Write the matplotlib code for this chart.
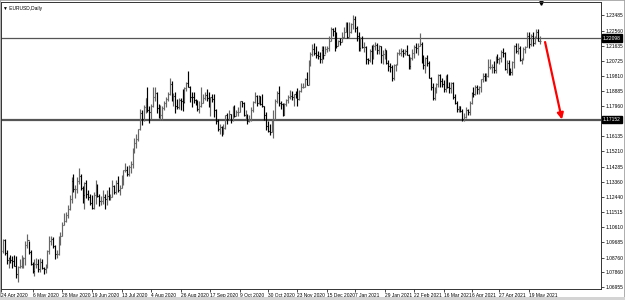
import numpy as np
import pandas as pd
import matplotlib
matplotlib.use("Agg")
import matplotlib.pyplot as plt
from matplotlib.patches import Rectangle

############## Données EURUSD Daily ##############

# bornes : première ouverture puis (haut, bas, clôture) par séance
first_open = 1.0915
highs = [
    1.0990, 1.0990, 1.0925, 1.0880,
    1.0890, 1.0885, 1.0890, 1.0885, 1.0825,
    1.0865, 1.0890, 1.0880, 1.0975, 1.1020,
    1.0975, 1.0925, 1.0850, 1.0865, 1.0875,
    1.0865, 1.0875, 1.0865, 1.0820, 1.0835,
    1.0925, 1.1010, 1.1010, 1.1000, 1.0955,
    1.0925, 1.1005, 1.1030, 1.1095, 1.1145,
    1.1155, 1.1195, 1.1255, 1.1365, 1.1385,
    1.1320, 1.1365, 1.1422, 1.1385, 1.1310,
    1.1335, 1.1345, 1.1285, 1.1260, 1.1255,
    1.1275, 1.1350, 1.1325, 1.1265, 1.1250,
    1.1285, 1.1265, 1.1285, 1.1305, 1.1265,
    1.1345, 1.1315, 1.1345, 1.1370, 1.1315,
    1.1375, 1.1410, 1.1450, 1.1435, 1.1440,
    1.1465, 1.1545, 1.1600, 1.1625, 1.1660,
    1.1780, 1.1775, 1.1805, 1.1845, 1.1910,
    1.1800, 1.1810, 1.1915, 1.1915, 1.1880,
    1.1810, 1.1805, 1.1800, 1.1830, 1.1850,
    1.1885, 1.1965, 1.1950, 1.1875, 1.1885,
    1.1840, 1.1845, 1.1845, 1.1900, 1.1915,
    1.1945, 1.2011, 1.1920, 1.1885, 1.1880,
    1.1840, 1.1835, 1.1830, 1.1915, 1.1870,
    1.1885, 1.1900, 1.1885, 1.1850, 1.1870,
    1.1870, 1.1780, 1.1720, 1.1690, 1.1675,
    1.1685, 1.1745, 1.1755, 1.1770, 1.1750,
    1.1800, 1.1805, 1.1770, 1.1790, 1.1830,
    1.1830, 1.1820, 1.1775, 1.1750, 1.1740,
    1.1790, 1.1830, 1.1880, 1.1865, 1.1865,
    1.1860, 1.1870, 1.1800, 1.1760, 1.1705,
    1.1690, 1.1720, 1.1770, 1.1840, 1.1890,
    1.1920, 1.1830, 1.1815, 1.1815, 1.1840,
    1.1865, 1.1895, 1.1890, 1.1870, 1.1890,
    1.1905, 1.1895, 1.1940, 1.1940, 1.1965,
    1.2005, 1.2075, 1.2125, 1.2175, 1.2180,
    1.2165, 1.2130, 1.2125, 1.2160, 1.2165,
    1.2165, 1.2160, 1.2220, 1.2275, 1.2270,
    1.2275, 1.2250, 1.2200, 1.2210,
    1.2250, 1.2275, 1.2310, 1.2310,
    1.2310, 1.2300, 1.2349, 1.2345, 1.2285,
    1.2245, 1.2215, 1.2220, 1.2185, 1.2160,
    1.2090, 1.2145, 1.2170, 1.2175, 1.2185,
    1.2180, 1.2170, 1.2165, 1.2140, 1.2150,
    1.2140, 1.2075, 1.2060, 1.2045, 1.2050,
    1.2055, 1.2125, 1.2145, 1.2150, 1.2145,
    1.2145, 1.2170, 1.2115, 1.2095, 1.2145,
    1.2170, 1.2180, 1.2180, 1.2243, 1.2185,
    1.2110, 1.2095, 1.2110, 1.2070, 1.1975,
    1.1935, 1.1910, 1.1935, 1.1990, 1.1990,
    1.1970, 1.1955, 1.1985, 1.1990, 1.1945,
    1.1945, 1.1945, 1.1870, 1.1830, 1.1800,
    1.1800, 1.1780, 1.1755, 1.1790, 1.1780,
    1.1825, 1.1880, 1.1915, 1.1925, 1.1925,
    1.1920, 1.1960, 1.1995, 1.1995, 1.1995,
    1.2080, 1.2080, 1.2050, 1.2070, 1.2100,
    1.2115, 1.2095, 1.2135, 1.2150, 1.2125,
    1.2075, 1.2075, 1.2030, 1.2070, 1.2170,
    1.2180, 1.2180, 1.2165, 1.2090, 1.2155,
    1.2165, 1.2245, 1.2245, 1.2235, 1.2245,
    1.2225, 1.2266, 1.2265, 1.2225,
]
lows = [
    1.0905, 1.0890, 1.0840, 1.0810,
    1.0845, 1.0815, 1.0825, 1.0755, 1.0727,
    1.0815, 1.0810, 1.0815, 1.0830, 1.0935,
    1.0895, 1.0830, 1.0780, 1.0765, 1.0815,
    1.0790, 1.0790, 1.0805, 1.0775, 1.0785,
    1.0815, 1.0900, 1.0950, 1.0935, 1.0870,
    1.0875, 1.0890, 1.0955, 1.1010, 1.1075,
    1.1090, 1.1115, 1.1165, 1.1205, 1.1275,
    1.1240, 1.1270, 1.1325, 1.1285, 1.1205,
    1.1170, 1.1240, 1.1225, 1.1195, 1.1170,
    1.1170, 1.1200, 1.1245, 1.1190, 1.1195,
    1.1200, 1.1170, 1.1195, 1.1225, 1.1225,
    1.1245, 1.1260, 1.1265, 1.1275, 1.1255,
    1.1300, 1.1320, 1.1395, 1.1370, 1.1370,
    1.1390, 1.1420, 1.1510, 1.1540, 1.1585,
    1.1650, 1.1680, 1.1705, 1.1755, 1.1760,
    1.1695, 1.1720, 1.1790, 1.1825, 1.1755,
    1.1725, 1.1710, 1.1710, 1.1775, 1.1790,
    1.1825, 1.1865, 1.1825, 1.1800, 1.1755,
    1.1780, 1.1780, 1.1770, 1.1765, 1.1815,
    1.1890, 1.1910, 1.1820, 1.1790, 1.1815,
    1.1805, 1.1765, 1.1755, 1.1790, 1.1815,
    1.1835, 1.1825, 1.1790, 1.1735, 1.1820,
    1.1730, 1.1690, 1.1645, 1.1625, 1.1612,
    1.1625, 1.1660, 1.1685, 1.1715, 1.1695,
    1.1705, 1.1730, 1.1735, 1.1735, 1.1760,
    1.1790, 1.1735, 1.1720, 1.1690, 1.1700,
    1.1705, 1.1760, 1.1815, 1.1800, 1.1810,
    1.1805, 1.1790, 1.1715, 1.1650, 1.1640,
    1.1620, 1.1640, 1.1603, 1.1710, 1.1815,
    1.1800, 1.1780, 1.1735, 1.1740, 1.1800,
    1.1815, 1.1840, 1.1835, 1.1800, 1.1845,
    1.1800, 1.1835, 1.1880, 1.1905, 1.1910,
    1.1925, 1.1925, 1.2040, 1.2100, 1.2110,
    1.2090, 1.2085, 1.2060, 1.2060, 1.2085,
    1.2115, 1.2125, 1.2130, 1.2190, 1.2225,
    1.2130, 1.2150, 1.2160, 1.2170,
    1.2185, 1.2210, 1.2245, 1.2210,
    1.2215, 1.2240, 1.2265, 1.2250, 1.2190,
    1.2130, 1.2130, 1.2150, 1.2125, 1.2055,
    1.2055, 1.2065, 1.2055, 1.2085, 1.2135,
    1.2115, 1.2115, 1.2060, 1.2055, 1.2080,
    1.2050, 1.2010, 1.2005, 1.1950, 1.1955,
    1.2010, 1.2045, 1.2105, 1.2100, 1.2095,
    1.2110, 1.2105, 1.2025, 1.2020, 1.2075,
    1.2090, 1.2120, 1.2110, 1.2160, 1.2060,
    1.2025, 1.2000, 1.2040, 1.1965, 1.1895,
    1.1835, 1.1835, 1.1875, 1.1915, 1.1910,
    1.1910, 1.1885, 1.1885, 1.1905, 1.1875,
    1.1875, 1.1840, 1.1810, 1.1760, 1.1760,
    1.1760, 1.1705, 1.1704, 1.1725, 1.1745,
    1.1740, 1.1810, 1.1855, 1.1865, 1.1870,
    1.1870, 1.1880, 1.1945, 1.1950, 1.1950,
    1.1975, 1.2020, 1.2000, 1.1995, 1.2000,
    1.2060, 1.2055, 1.2065, 1.2095, 1.2015,
    1.1995, 1.1985, 1.1985, 1.1985, 1.2030,
    1.2120, 1.2115, 1.2070, 1.2050, 1.2075,
    1.2120, 1.2155, 1.2150, 1.2165, 1.2165,
    1.2175, 1.2210, 1.2190, 1.2175,
]
closes = [
    1.0985, 1.0905, 1.0860, 1.0875,
    1.0860, 1.0855, 1.0825, 1.0775, 1.0820,
    1.0825, 1.0825, 1.0875, 1.0955, 1.0980,
    1.0910, 1.0840, 1.0795, 1.0835, 1.0840,
    1.0805, 1.0850, 1.0815, 1.0805, 1.0820,
    1.0915, 1.0975, 1.0990, 1.0945, 1.0900,
    1.0900, 1.0980, 1.1010, 1.1075, 1.1100,
    1.1135, 1.1170, 1.1235, 1.1340, 1.1290,
    1.1295, 1.1340, 1.1370, 1.1300, 1.1255,
    1.1330, 1.1265, 1.1245, 1.1205, 1.1175,
    1.1255, 1.1310, 1.1250, 1.1220, 1.1220,
    1.1245, 1.1235, 1.1250, 1.1240, 1.1245,
    1.1310, 1.1275, 1.1330, 1.1285, 1.1300,
    1.1340, 1.1410, 1.1410, 1.1385, 1.1425,
    1.1445, 1.1530, 1.1570, 1.1595, 1.1655,
    1.1755, 1.1720, 1.1790, 1.1845, 1.1775,
    1.1760, 1.1800, 1.1855, 1.1875, 1.1785,
    1.1735, 1.1740, 1.1785, 1.1815, 1.1840,
    1.1870, 1.1930, 1.1835, 1.1860, 1.1795,
    1.1790, 1.1835, 1.1830, 1.1820, 1.1905,
    1.1935, 1.1915, 1.1855, 1.1850, 1.1835,
    1.1815, 1.1780, 1.1800, 1.1815, 1.1845,
    1.1865, 1.1845, 1.1815, 1.1850, 1.1840,
    1.1770, 1.1705, 1.1660, 1.1670, 1.1630,
    1.1665, 1.1740, 1.1720, 1.1750, 1.1715,
    1.1780, 1.1735, 1.1760, 1.1760, 1.1825,
    1.1815, 1.1745, 1.1745, 1.1705, 1.1715,
    1.1770, 1.1820, 1.1860, 1.1815, 1.1860,
    1.1810, 1.1795, 1.1745, 1.1675, 1.1645,
    1.1640, 1.1715, 1.1720, 1.1830, 1.1875,
    1.1815, 1.1810, 1.1740, 1.1810, 1.1835,
    1.1855, 1.1860, 1.1850, 1.1870, 1.1855,
    1.1840, 1.1890, 1.1915, 1.1915, 1.1960,
    1.1925, 1.2070, 1.2115, 1.2145, 1.2120,
    1.2110, 1.2100, 1.2080, 1.2135, 1.2110,
    1.2145, 1.2150, 1.2195, 1.2265, 1.2255,
    1.2240, 1.2165, 1.2190, 1.2185,
    1.2215, 1.2250, 1.2295, 1.2215,
    1.2250, 1.2295, 1.2325, 1.2270, 1.2220,
    1.2150, 1.2210, 1.2155, 1.2155, 1.2080,
    1.2075, 1.2130, 1.2105, 1.2165, 1.2170,
    1.2140, 1.2160, 1.2110, 1.2115, 1.2135,
    1.2060, 1.2040, 1.2035, 1.1965, 1.2045,
    1.2050, 1.2120, 1.2120, 1.2130, 1.2120,
    1.2130, 1.2105, 1.2040, 1.2090, 1.2120,
    1.2155, 1.2150, 1.2165, 1.2175, 1.2075,
    1.2045, 1.2090, 1.2060, 1.1965, 1.1915,
    1.1845, 1.1900, 1.1930, 1.1985, 1.1950,
    1.1930, 1.1900, 1.1980, 1.1915, 1.1905,
    1.1935, 1.1850, 1.1815, 1.1780, 1.1795,
    1.1765, 1.1720, 1.1730, 1.1775, 1.1760,
    1.1815, 1.1875, 1.1870, 1.1915, 1.1900,
    1.1910, 1.1960, 1.1980, 1.1965, 1.1980,
    1.2035, 1.2035, 1.2035, 1.2015, 1.2095,
    1.2085, 1.2090, 1.2125, 1.2120, 1.2020,
    1.2060, 1.2015, 1.2005, 1.2065, 1.2165,
    1.2130, 1.2150, 1.2075, 1.2080, 1.2145,
    1.2155, 1.2225, 1.2175, 1.2225, 1.2180,
    1.2215, 1.2250, 1.2195, 1.2195,
]

# niveaux tracés et étiquettes de prix à droite
resistance = 1.22098
support = 1.17152
price_ticks = [1.23485, 1.22560, 1.21635, 1.20725, 1.19810, 1.18885, 1.17960,
               1.16135, 1.15210, 1.14285, 1.13360, 1.12440, 1.11515, 1.10610,
               1.09685, 1.08760, 1.07860, 1.06955]
date_labels = ["24 Apr 2020", "6 May 2020", "28 May 2020", "19 Jun 2020",
               "13 Jul 2020", "4 Aug 2020", "26 Aug 2020", "17 Sep 2020",
               "9 Oct 2020", "30 Oct 2020", "23 Nov 2020", "15 Dec 2020",
               "7 Jan 2021", "29 Jan 2021", "22 Feb 2021", "16 Mar 2021",
               "6 Apr 2021", "27 Apr 2021", "19 May 2021"]

# flèche rouge : départ (barres après la dernière, prix) -> arrivée sur le support
arrow_from = (2.7, 1.2186)
arrow_to = (11.8, support)

############## Préparation ##############

dates = pd.bdate_range("2020-04-14", "2021-05-27")
dates = dates[~dates.isin(pd.to_datetime(["2020-12-25", "2021-01-01"]))]
n = len(closes)
dates = dates[:n]
x = np.arange(n)
o = np.array([first_open] + closes[:-1])
c = np.array(closes)
h = np.array(highs)
l = np.array(lows)
up = c >= o

plt.rcParams["font.family"] = ["Liberation Sans", "DejaVu Sans"]
fs = 3.5

############## Figure ##############

fig = plt.figure(figsize=(6.25, 3.0), dpi=100)
ax = fig.add_axes([1 / 625, 11.5 / 300, 600 / 625, 286.5 / 300])

x_left, x_right = -1.08, 322.9
ax.set_xlim(x_left, x_right)
ax.set_ylim(1.06882, 1.24294)

for mask, col in ((up, "#666666"), (~up, "#000000")):
    ax.vlines(x[mask], l[mask], h[mask], color=col, lw=0.85)
    ax.hlines(o[mask], x[mask] - 0.5, x[mask], color=col, lw=0.8)
    ax.hlines(c[mask], x[mask], x[mask] + 0.5, color=col, lw=0.8)

ax.axhline(resistance, color="#555555", lw=0.9, zorder=1)
ax.axhline(support, color="#555555", lw=1.6, zorder=1)

ax.annotate("", xy=(n - 1 + arrow_to[0], arrow_to[1]),
            xytext=(n - 1 + arrow_from[0], arrow_from[1]),
            arrowprops=dict(arrowstyle="-|>", color="#ff0000", lw=1.6,
                            mutation_scale=9, shrinkA=0, shrinkB=0))

# marqueur de décalage du graphique
ax.plot([n - 0.5], [1.2425], marker="v", color="black", markersize=2.5,
        clip_on=False)

# axe des prix à droite
ax.yaxis.tick_right()
ax.set_yticks(price_ticks)
ax.set_yticklabels(["%.5f" % p for p in price_ticks])
ax.tick_params(axis="y", length=2, width=0.5, pad=1, labelsize=fs,
               colors="black")

for lvl in (resistance, support):
    ax.text(1.003, lvl, "%.5f" % lvl, transform=ax.get_yaxis_transform(),
            fontsize=fs, color="white", va="center", ha="left",
            bbox=dict(boxstyle="square,pad=0.25", fc="black", ec="black"),
            clip_on=False)

# axe des dates
pos = [x_left] + [int(np.where(dates == pd.to_datetime(d))[0][0])
                  for d in date_labels[1:]]
ax.set_xticks(pos)
ax.set_xticklabels(date_labels, ha="left")
ax.tick_params(axis="x", length=2.5, width=0.5, pad=0.8, labelsize=fs)

for s in ax.spines.values():
    s.set_linewidth(0.7)
    s.set_color("#333333")

ax.text(0.004, 0.985, "\u25bc EURUSD,Daily", transform=ax.transAxes,
        fontsize=fs, va="top", ha="left")

# cadre de la fenêtre
fig.patches.append(Rectangle((0, 0), 1, 1, transform=fig.transFigure,
                             fill=False, ec="#a0a0a0", lw=1.2))
fig.patches.append(Rectangle((0, 0), 1, 3 / 300, transform=fig.transFigure,
                             fc="#d4d4d4", ec="none"))

fig.savefig("out.png", dpi=100)
